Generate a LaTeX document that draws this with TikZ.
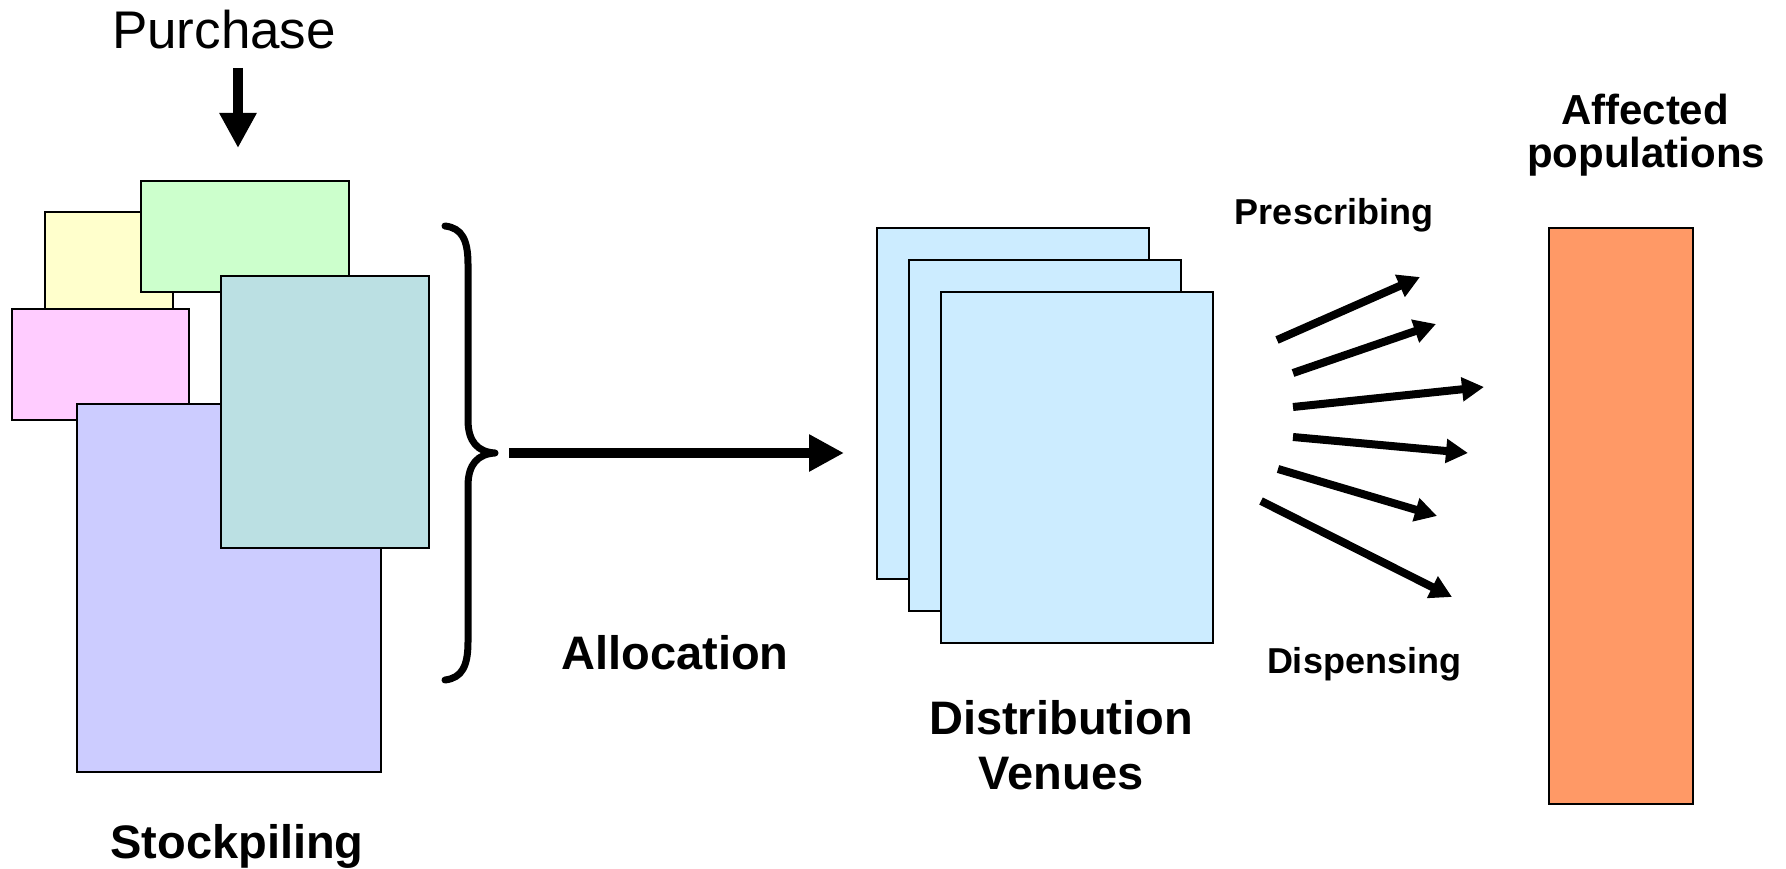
\documentclass[tikz,border=0pt]{standalone}
\usepackage{fontspec}
\setmainfont{Liberation Sans}
\usetikzlibrary{arrows.meta}
\definecolor{cyellow}{HTML}{FFFFCC}
\definecolor{cgreen}{HTML}{CCFFCC}
\definecolor{cpink}{HTML}{FFCCFF}
\definecolor{cpurple}{HTML}{CCCCFF}
\definecolor{cteal}{HTML}{BBE0E3}
\definecolor{cvenue}{HTML}{CCECFF}
\definecolor{corange}{HTML}{FF9966}
\begin{document}
\begin{tikzpicture}[x=1pt,y=-1pt,
  box/.style={draw=black, line width=2.5pt, inner sep=0pt, outer sep=0pt},
  bigarrow/.style={line width=10pt, -{Triangle[length=35pt,width=35pt]}},
  fanarrow/.style={line width=8pt, -{Triangle[length=22pt,width=23pt]}},
  bracestyle/.style={line width=7pt, line cap=round, line join=round},
  lbl/.style={inner sep=0pt, anchor=base, font=\fontsize{47}{55}\selectfont\bfseries},
  lblsmall/.style={inner sep=0pt, anchor=base, font=\fontsize{36}{42}\selectfont\bfseries},
  lblmid/.style={inner sep=0pt, anchor=base, font=\fontsize{42}{48}\selectfont\bfseries},
  lblreg/.style={inner sep=0pt, anchor=base, font=\fontsize{53}{60}\selectfont}]
\useasboundingbox (0,0) rectangle (1786,869);

% stockpile boxes (back to front)
\node[box, fill=cyellow, minimum width=128pt, minimum height=118pt] (yellow) at (109,271) {};
\node[box, fill=cgreen, minimum width=208pt, minimum height=111pt] (green) at (245,236.5) {};
\node[box, fill=cpink, minimum width=177pt, minimum height=111pt] (pink) at (100.5,364.5) {};
\node[box, fill=cpurple, minimum width=304pt, minimum height=368pt] (purple) at (229,588) {};
\node[box, fill=cteal, minimum width=208pt, minimum height=272pt] (teal) at (325,412) {};

% distribution venues
\node[box, fill=cvenue, minimum width=272pt, minimum height=351pt] (venueA) at (1013,403.5) {};
\node[box, fill=cvenue, minimum width=272pt, minimum height=351pt] (venueB) at (1045,435.5) {};
\node[box, fill=cvenue, minimum width=272pt, minimum height=351pt] (venueC) at (1077,467.5) {};

% affected populations
\node[box, fill=corange, minimum width=144pt, minimum height=576pt] (pop) at (1621,516) {};

% labels
\node[lblreg] (purchase) at (224,49) {Purchase};
\node[lbl] (stock) at (237,858) {Stockpiling};
\node[lbl] (alloc) at (675,669) {Allocation};
\node[lbl] (distA) at (1061,734) {Distribution};
\node[lbl] (distB) at (1061,789) {Venues};
\node[lblsmall] (presc) at (1334,225) {Prescribing};
\node[lblsmall] (disp) at (1364,673) {Dispensing};
\node[lblmid] (affA) at (1645,125) {Affected};
\node[lblmid] (affB) at (1646,168) {populations};

% brace
\draw[bracestyle] (445,226) .. controls (462,228) and (468,240) .. (468,264)
  -- (468,420) .. controls (468,442) and (478,452) .. (495,453)
  .. controls (478,454) and (468,464) .. (468,486)
  -- (468,642) .. controls (468,666) and (462,678) .. (445,680);

% arrow coordinates
\coordinate (pS) at (238,68);
\coordinate (pE) at (238,148);
\coordinate (aS) at (509,453);
\coordinate (aE) at (844,453);
\coordinate (f1s) at (1277,340); \coordinate (f1e) at (1420,277);
\coordinate (f2s) at (1293,373); \coordinate (f2e) at (1436,324);
\coordinate (f3s) at (1293,407); \coordinate (f3e) at (1484,387);
\coordinate (f4s) at (1293,437); \coordinate (f4e) at (1468,453);
\coordinate (f5s) at (1278,469); \coordinate (f5e) at (1437,516);
\coordinate (f6s) at (1261,501); \coordinate (f6e) at (1452,597);

\draw[bigarrow] (pS) -- (pE);
\draw[bigarrow] (aS) -- (aE);
\draw[fanarrow] (f1s) -- (f1e);
\draw[fanarrow] (f2s) -- (f2e);
\draw[fanarrow] (f3s) -- (f3e);
\draw[fanarrow] (f4s) -- (f4e);
\draw[fanarrow] (f5s) -- (f5e);
\draw[fanarrow] (f6s) -- (f6e);
\end{tikzpicture}
\end{document}
